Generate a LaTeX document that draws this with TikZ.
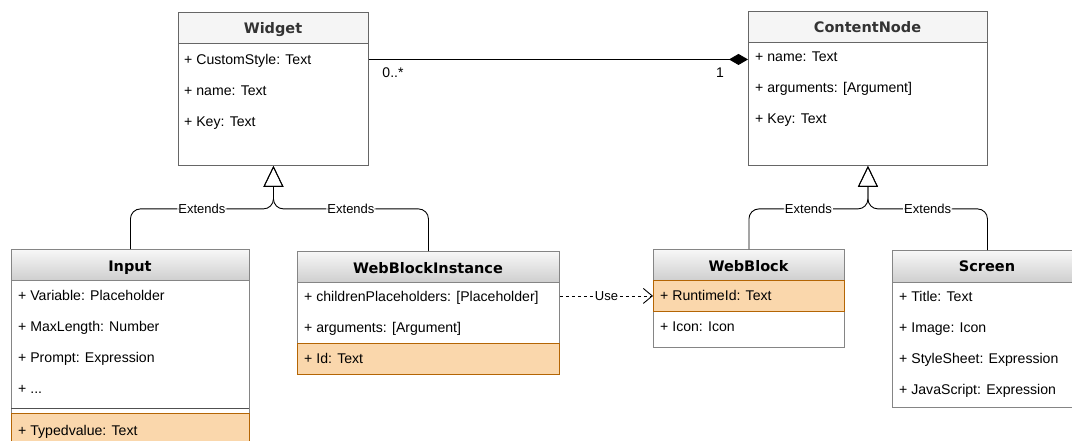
\documentclass[tikz,border=0pt]{standalone}
\usepackage{fontspec}
\setmainfont{Liberation Sans}
\newfontfamily\headfont{DejaVu Sans}
\usetikzlibrary{arrows.meta}
\definecolor{topline}{HTML}{666666}
\definecolor{botline}{HTML}{858585}
\definecolor{headfill}{HTML}{F5F5F5}
\definecolor{headtxt}{HTML}{333333}
\definecolor{orfill}{HTML}{FAD7AC}
\definecolor{orline}{HTML}{B46504}
\begin{document}
\begin{tikzpicture}[x=1pt,y=-1pt,
  box/.style={draw=#1, line width=0.9pt, inner sep=0pt, anchor=north west, fill=white},
  plainhead/.style={box=topline, fill=headfill},
  gradhead/.style={box=botline, top color=gray!6, bottom color=gray!38},
  orrow/.style={draw=orline, line width=0.9pt, fill=orfill, inner sep=0pt, anchor=north west},
  title/.style={anchor=base, inner sep=0pt, font=\headfont\bfseries\fontsize{14.5}{17}\selectfont},
  attr/.style={anchor=base west, inner sep=0pt, font=\fontsize{14.1}{17}\selectfont},
  lbl/.style={font=\fontsize{13}{15}\selectfont, fill=white, inner sep=1pt},
  mult/.style={font=\fontsize{14}{17}\selectfont, inner sep=0pt},
  conn/.style={line width=0.9pt, draw=black},
  ext/.style={conn, rounded corners=10pt, -{Triangle[open, length=21pt, width=20pt]}},
]
\useasboundingbox (0,0) rectangle (1072,441);
\clip (0,0) rectangle (1072,441);

% ---- Widget ----
\node[box=topline, minimum width=190pt, minimum height=153pt] (widget) at (178,12) {};
\node[plainhead, minimum width=190pt, minimum height=31pt] (widgeth) at (178,12) {};
\node[title, text=headtxt] at (273,34) {Widget};
\node[attr] (w1) at (184,64.5) {+ CustomStyle: Text};
\node[attr] (w2) at (184,95.5) {+ name: Text};
\node[attr] (w3) at (184,126.5) {+ Key: Text};

% ---- ContentNode ----
\node[box=topline, minimum width=239pt, minimum height=154pt] (cnode) at (748,11) {};
\node[plainhead, minimum width=239pt, minimum height=31pt] (cnodeh) at (748,11) {};
\node[title, text=headtxt] at (867.5,33) {ContentNode};
\node[attr] (c1) at (755,61.5) {+ name: Text};
\node[attr] (c2) at (755,92.5) {+ arguments: [Argument]};
\node[attr] (c3) at (755,123.5) {+ Key: Text};

% ---- Input ----
\node[box=botline, minimum width=238pt, minimum height=220pt] (input) at (11,249) {};
\node[gradhead, minimum width=238pt, minimum height=31pt] (inputh) at (11,249) {};
\node[title] at (130,271) {Input};
\node[attr] (i1) at (18,300.5) {+ Variable: Placeholder};
\node[attr] (i2) at (18,331.5) {+ MaxLength: Number};
\node[attr] (i3) at (18,362.5) {+ Prompt: Expression};
\node[attr] (i4) at (18,393.5) {+ ...};
\draw[botline!60!black, line width=0.9pt] (11,408.5) -- (249,408.5);
\node[orrow, minimum width=238pt, minimum height=40pt] (inputo) at (11,413) {};
\node[attr] (i5) at (18,435.5) {+ Typedvalue: Text};

% ---- WebBlockInstance ----
\node[box=botline, minimum width=262pt, minimum height=123pt] (wbi) at (297,251) {};
\node[gradhead, minimum width=262pt, minimum height=31pt] (wbih) at (297,251) {};
\node[title] at (428,273) {WebBlockInstance};
\node[attr] (b1) at (304,301.5) {+ childrenPlaceholders: [Placeholder]};
\node[attr] (b2) at (304,332.5) {+ arguments: [Argument]};
\node[orrow, minimum width=262pt, minimum height=31pt] (wbio) at (297,343) {};
\node[attr] (b3) at (304,363.5) {+ Id: Text};

% ---- WebBlock ----
\node[box=botline, minimum width=191pt, minimum height=98pt] (wb) at (653,249) {};
\node[gradhead, minimum width=191pt, minimum height=31pt] (wbh) at (653,249) {};
\node[title] at (748.5,271) {WebBlock};
\node[orrow, minimum width=191pt, minimum height=31pt] (wbrt) at (653,280) {};
\node[attr] (r1) at (660,300.5) {+ RuntimeId: Text};
\node[attr] (r2) at (660,331.5) {+ Icon: Icon};

% ---- Screen ----
\node[box=botline, minimum width=190pt, minimum height=157pt] (screen) at (892,250) {};
\node[gradhead, minimum width=190pt, minimum height=32pt] (screenh) at (892,250) {};
\node[title] at (987,272) {Screen};
\node[attr] (s1) at (899,301.5) {+ Title: Text};
\node[attr] (s2) at (899,332.5) {+ Image: Icon};
\node[attr] (s3) at (899,363.5) {+ StyleSheet: Expression};
\node[attr] (s4) at (899,394.5) {+ JavaScript: Expression};

% ---- association Widget -> ContentNode ----
\draw[conn, -{Diamond[length=19pt, width=11pt]}]
  ([yshift=29.5pt]widget.east) -- ([yshift=29pt]cnode.west);
\node[mult] (m1) at (393,73) {0..*};
\node[mult] (m2) at (720,73) {1};

% ---- generalisations ----
\coordinate (wj) at ([yshift=-43pt]widget.south);
\coordinate (cj) at ([yshift=-43pt]cnode.south);
\draw[ext] (input.north) |- node[pos=0.75, lbl] {Extends} (wj) -- (widget.south);
\draw[ext] (wbi.north) |- node[pos=0.75, lbl] {Extends} (wj) -- (widget.south);
\draw[ext] (wb.north) |- node[pos=0.75, lbl] {Extends} (cj) -- (cnode.south);
\draw[ext] (screen.north) |- node[pos=0.75, lbl] {Extends} (cj) -- (cnode.south);

% ---- dependency ----
\draw[conn, dash pattern=on 3pt off 3pt, -{Straight Barb[length=9pt, width=15pt]}]
  (wbi.east |- wbrt.west) -- node[lbl, pos=0.5] {Use} (wbrt.west);
\end{tikzpicture}
\end{document}
